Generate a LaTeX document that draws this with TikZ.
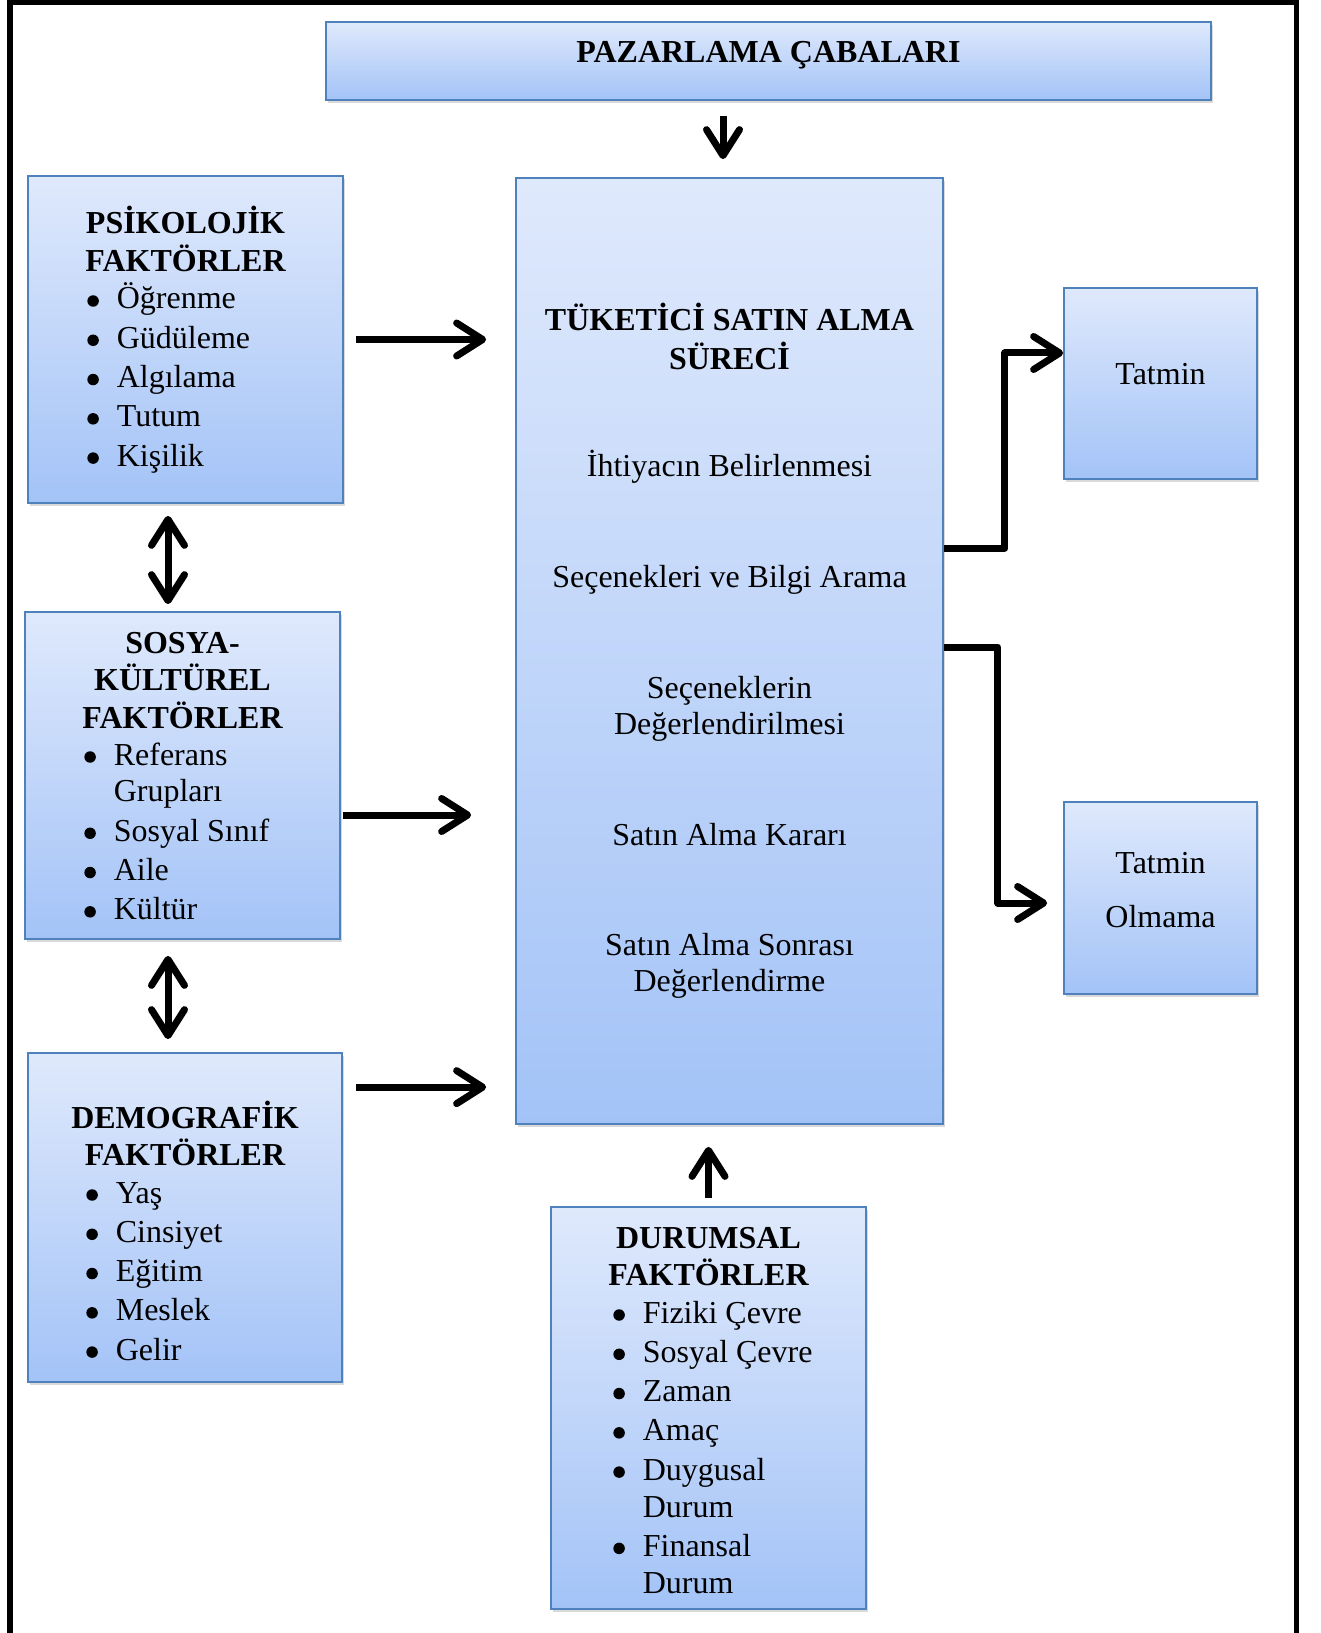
\documentclass[tikz,border=0pt]{standalone}
\usepackage{fontspec}
\setmainfont{Liberation Serif}
\usetikzlibrary{arrows.meta,shadows}
\definecolor{kutuust}{RGB}{223,233,252}
\definecolor{kutualt}{RGB}{163,195,247}
\definecolor{kutukenar}{RGB}{79,129,189}
\tikzset{
  kutu/.style={rectangle, draw=kutukenar, line width=0.035cm, top color=kutuust, bottom color=kutualt,
    drop shadow={shadow xshift=0.04cm, shadow yshift=-0.06cm, opacity=0.3}, inner sep=0pt},
  yazi/.style={anchor=base, inner sep=0pt, font=\fontsize{18.2}{21.05}\selectfont},
  kalin/.style={yazi, font=\fontsize{18.2}{21.05}\selectfont\bfseries},
  liste/.style={yazi, anchor=base west},
  ok/.style={line width=0.14cm, line join=round, -{Straight Barb[round, length=0.52cm, width=0.66cm]}},
  ciftok/.style={line width=0.14cm, {Straight Barb[round, length=0.52cm, width=0.66cm]}-{Straight Barb[round, length=0.52cm, width=0.66cm]}},
}
\newcommand{\satir}[2]{\begin{tabular}[t]{@{}#1@{}}#2\end{tabular}}
\newcommand{\madde}{\tikz[baseline=-0.16cm]\fill (0,0) circle (0.115cm);}
\begin{document}
\begin{tikzpicture}
\useasboundingbox (0,0) rectangle (26.4,-32.66);
\draw[line width=0.1cm] (0.2,-33) -- (0.2,-0.05) -- (25.92,-0.05) -- (25.92,-33);

% kutular
\node[kutu, minimum width=17.70cm, minimum height=1.56cm] (paz) at (15.37,-1.22) {};
\node[kutu, minimum width=8.54cm, minimum height=18.92cm] (surec) at (14.59,-13.02) {};
\node[kutu, minimum width=6.30cm, minimum height=6.54cm] (psik) at (3.71,-6.79) {};
\node[kutu, minimum width=6.30cm, minimum height=6.54cm] (sosya) at (3.65,-15.51) {};
\node[kutu, minimum width=6.28cm, minimum height=6.58cm] (demo) at (3.70,-24.35) {};
\node[kutu, minimum width=6.30cm, minimum height=8.04cm] (durum) at (14.17,-28.16) {};
\node[kutu, minimum width=3.86cm, minimum height=3.82cm] (tatmin) at (23.21,-7.67) {};
\node[kutu, minimum width=3.86cm, minimum height=3.84cm] (olmama) at (23.21,-17.96) {};

% yazilar
\node[kalin] (pazyazi) at (15.37,-1.25) {PAZARLAMA ÇABALARI};
\node[kalin] (surecb) at (14.59,-6.62) {\satir{c}{TÜKETİCİ SATIN ALMA\\SÜRECİ}};
\node[yazi] (ihtiyac) at (14.59,-9.54) {İhtiyacın Belirlenmesi};
\node[yazi] (arama) at (14.59,-11.74) {Seçenekleri ve Bilgi Arama};
\node[yazi] (deger) at (14.59,-13.96) {\satir{c}{Seçeneklerin\\Değerlendirilmesi}};
\node[yazi] (karar) at (14.59,-16.90) {Satın Alma Kararı};
\node[yazi] (sonrasi) at (14.59,-19.10) {\satir{c}{Satın Alma Sonrası\\Değerlendirme}};

\node[kalin] (psikb) at (3.71,-4.68) {\satir{c}{PSİKOLOJİK\\FAKTÖRLER}};
\node[liste] (psikl) at (1.74,-6.18) {\satir{l@{\hspace{0.36cm}}l}{%
  \madde & Öğrenme\\[1.3pt] \madde & Güdüleme\\[1.3pt] \madde & Algılama\\[1.3pt]
  \madde & Tutum\\[1.3pt] \madde & Kişilik}};

\node[kalin] (sosyab) at (3.65,-13.06) {\satir{c}{SOSYA-\\KÜLTÜREL\\FAKTÖRLER}};
\node[liste] (sosyal) at (1.68,-15.30) {\satir{l@{\hspace{0.36cm}}l}{%
  \madde & Referans\\ & Grupları\\[1.3pt] \madde & Sosyal Sınıf\\[1.3pt]
  \madde & Aile\\[1.3pt] \madde & Kültür}};

\node[kalin] (demob) at (3.70,-22.56) {\satir{c}{DEMOGRAFİK\\FAKTÖRLER}};
\node[liste] (demol) at (1.72,-24.06) {\satir{l@{\hspace{0.36cm}}l}{%
  \madde & Yaş\\[1.3pt] \madde & Cinsiyet\\[1.3pt] \madde & Eğitim\\[1.3pt]
  \madde & Meslek\\[1.3pt] \madde & Gelir}};

\node[kalin] (durumb) at (14.17,-24.96) {\satir{c}{DURUMSAL\\FAKTÖRLER}};
\node[liste] (duruml) at (12.26,-26.46) {\satir{l@{\hspace{0.36cm}}l}{%
  \madde & Fiziki Çevre\\[1.3pt] \madde & Sosyal Çevre\\[1.3pt] \madde & Zaman\\[1.3pt]
  \madde & Amaç\\[1.3pt] \madde & Duygusal\\ & Durum\\[1.3pt] \madde & Finansal\\ & Durum}};

\node[yazi] (tatminy) at (23.21,-7.70) {Tatmin};
\node[yazi] (olmamay) at (23.21,-17.46) {\satir{c}{Tatmin\\[10.2pt]Olmama}};

% oklar
\coordinate (ust) at ([xshift=-0.13cm]surec.north);
\draw[ok, shorten <=0.30cm, shorten >=0.36cm] (ust |- paz.south) -- (ust);
\draw[ok, shorten <=0.24cm, shorten >=0.58cm] (psik.east) -- (psik.east -| surec.west);
\coordinate (s1) at ([yshift=-0.79cm]sosya.east);
\draw[ok, shorten <=0.04cm, shorten >=0.88cm] (s1) -- (s1 -| surec.west);
\coordinate (d1) at ([yshift=-0.70cm]demo.north east);
\draw[ok, shorten <=0.26cm, shorten >=0.58cm] (d1) -- (d1 -| surec.west);
\draw[ok, shorten <=0.16cm, shorten >=0.44cm] (durum.north) -- (durum.north |- surec.south);
\coordinate (c1) at ([xshift=-0.35cm]psik.south);
\draw[ciftok, shorten <=0.24cm, shorten >=0.14cm] (c1) -- (c1 |- sosya.north);
\coordinate (c2) at ([xshift=-0.29cm]sosya.south);
\draw[ciftok, shorten <=0.32cm, shorten >=0.26cm] (c2) -- (c2 |- demo.north);
\draw[ok] ([yshift=2.06cm]surec.east) -- ++(1.22,0) |- ([yshift=0.61cm]tatmin.west);
\draw[ok, shorten >=0.32cm] ([yshift=0.08cm]surec.east) -- ++(1.08,0) |- ([yshift=-0.10cm]olmama.west);
\end{tikzpicture}
\end{document}
